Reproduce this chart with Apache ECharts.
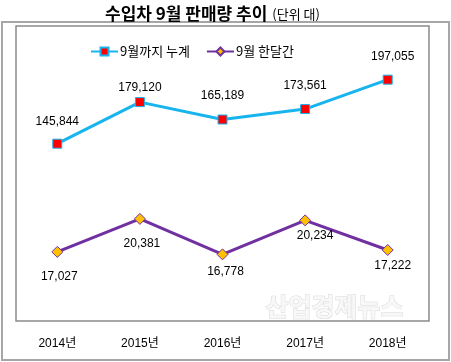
<!DOCTYPE html>
<html><head><meta charset="utf-8">
<script src="https://cdn.jsdelivr.net/npm/echarts@6/dist/echarts.min.js"></script>
<style>html,body{margin:0;padding:0;background:#fff}#c{width:451px;height:362px}</style>
</head><body><div id="c"></div>
<script>
const categories = ['2014년','2015년','2016년','2017년','2018년'];
const cumulative = [145844, 179120, 165189, 173561, 197055];
const monthly = [17027, 20381, 16778, 20234, 17222];
const seriesNames = ['9월까지 누계', '9월 한달간'];

const cumOffsets = [[0,-22],[0,-14],[0,-24],[0,-23],[5,-23]];
const monOffsets = [[2,25],[2,25],[3,17],[10,15],[5,16]];

const chart = echarts.init(document.getElementById('c'));
const fmt = v => v.toLocaleString('en-US');
const font = '"Liberation Sans", Arial, "Noto Sans CJK KR", sans-serif';

chart.setOption({
  backgroundColor: '#fff',
  animation: false,
  title: {
    text: '{a|수입차 9월 판매량 추이} {b|(단위 대)}',
    left: 100, top: 0,
    textStyle: {
      fontWeight: 'normal',
      rich: {
        a: {fontSize: 17, fontWeight: 'bold', color: '#000', fontFamily: '"Noto Sans CJK KR", sans-serif'},
        b: {fontSize: 13, fontWeight: 'normal', color: '#000', fontFamily: '"Noto Sans CJK KR", sans-serif'}
      }
    }
  },
  legend: {
    top: 40, left: 85, itemGap: 16, itemWidth: 27, itemHeight: 10,
    textStyle: {fontSize: 13, color: '#000', fontFamily: '"Noto Sans CJK KR", sans-serif', padding: [0,0,0,-3]},
    data: seriesNames
  },
  grid: {left: 16, right: 22, top: 26, bottom: 41, show: true, borderColor: '#8a8a8a', borderWidth: 1.5, backgroundColor: 'transparent'},
  xAxis: {
    type: 'category', data: categories,
    axisLine: {show: false}, axisTick: {show: false},
    axisLabel: {margin: 17, fontSize: 12, color: '#000', fontFamily: font}
  },
  yAxis: [
    {type: 'value', min: 4000, max: 240000, show: false, splitLine: {show: false}},
    {type: 'value', min: 10000, max: 40000, show: false, splitLine: {show: false}}
  ],
  graphic: [
    {type: 'rect', shape: {x: 2, y: 22, width: 447, height: 338}, style: {fill: 'none', stroke: '#a6a6a6', lineWidth: 2}, z: 0},
    {type: 'text', left: 265, top: 293, style: {text: '산업경제뉴스', fontSize: 25, fontWeight: 'bold', fill: '#f8f8f8', stroke: '#d8d8d8', lineWidth: 1, fontFamily: '"Noto Sans CJK KR", sans-serif'}, z: 1}
  ],
  series: [
    {
      name: seriesNames[0], type: 'line', yAxisIndex: 0,
      data: cumulative.map((v, i) => ({value: v, label: {offset: cumOffsets[i]}})),
      lineStyle: {color: '#17B4EE', width: 3},
      itemStyle: {color: '#FF0000', borderColor: '#17B4EE', borderWidth: 1},
      symbol: 'rect', symbolSize: 9,
      label: {show: true, position: 'inside', formatter: p => fmt(p.value), fontSize: 12, color: '#000', fontFamily: font},
      z: 3
    },
    {
      name: seriesNames[1], type: 'line', yAxisIndex: 1,
      data: monthly.map((v, i) => ({value: v, label: {offset: monOffsets[i]}})),
      lineStyle: {color: '#7030A0', width: 3},
      itemStyle: {color: '#FFC000', borderColor: '#7030A0', borderWidth: 1},
      symbol: 'diamond', symbolSize: 11,
      label: {show: true, position: 'inside', formatter: p => fmt(p.value), fontSize: 12, color: '#000', fontFamily: font},
      z: 3
    }
  ]
});
</script></body></html>
